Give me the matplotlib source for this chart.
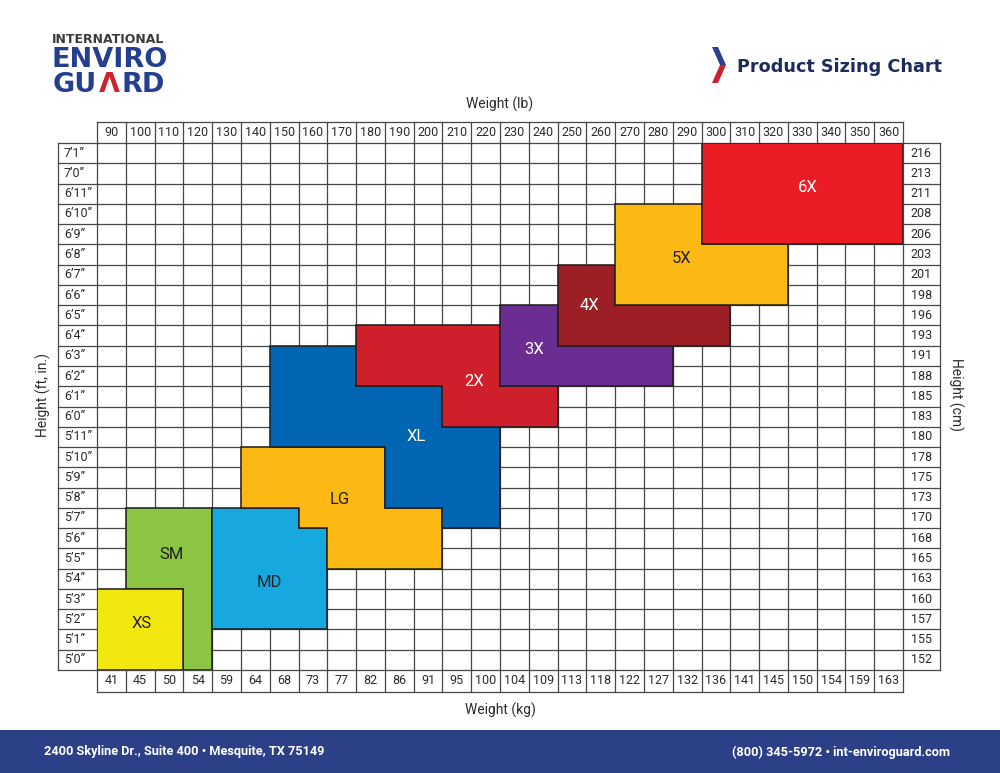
import matplotlib
matplotlib.use("Agg")
import matplotlib.pyplot as plt
from matplotlib.patches import Polygon, Rectangle

plt.rcParams["font.family"] = ["Roboto", "DejaVu Sans"]

W, H = 1000, 773

# ---------------------------------------------------------------------------
# Data
# ---------------------------------------------------------------------------
weights_lb = [90, 100, 110, 120, 130, 140, 150, 160, 170, 180, 190, 200, 210, 220,
              230, 240, 250, 260, 270, 280, 290, 300, 310, 320, 330, 340, 350, 360]
weights_kg = [41, 45, 50, 54, 59, 64, 68, 73, 77, 82, 86, 91, 95, 100,
              104, 109, 113, 118, 122, 127, 132, 136, 141, 145, 150, 154, 159, 163]
heights_in = list(range(60, 86))
heights_ft = ["5’0”", "5’1”", "5’2”", "5’3”", "5’4”", "5’5”", "5’6”", "5’7”",
              "5’8”", "5’9”", "5’10”", "5’11”", "6’0”", "6’1”", "6’2”", "6’3”",
              "6’4”", "6’5”", "6’6”", "6’7”", "6’8”", "6’9”", "6’10”", "6’11”",
              "7’0”", "7’1”"]
heights_cm = [152, 155, 157, 160, 163, 165, 168, 170, 173, 175, 178, 180, 183,
              185, 188, 191, 193, 196, 198, 201, 203, 206, 208, 211, 213, 216]

# visible outline of each size block: (lb cell edge, inch cell edge)
size_names = ["SM", "XS", "MD", "LG", "XL", "2X", "3X", "4X", "5X", "6X"]
size_shapes = {
    "XS": [(85, 59.5), (115, 59.5), (115, 63.5), (85, 63.5)],
    "SM": [(115, 59.5), (125, 59.5), (125, 67.5), (95, 67.5), (95, 63.5), (115, 63.5)],
    "MD": [(125, 61.5), (165, 61.5), (165, 66.5), (155, 66.5), (155, 67.5), (125, 67.5)],
    "LG": [(135, 67.5), (155, 67.5), (155, 66.5), (165, 66.5), (165, 64.5), (205, 64.5),
           (205, 67.5), (185, 67.5), (185, 70.5), (135, 70.5)],
    "XL": [(145, 70.5), (185, 70.5), (185, 67.5), (205, 67.5), (205, 66.5), (225, 66.5),
           (225, 71.5), (205, 71.5), (205, 73.5), (175, 73.5), (175, 75.5), (145, 75.5)],
    "2X": [(175, 73.5), (205, 73.5), (205, 71.5), (245, 71.5), (245, 73.5), (225, 73.5),
           (225, 76.5), (175, 76.5)],
    "3X": [(225, 73.5), (285, 73.5), (285, 75.5), (245, 75.5), (245, 77.5), (225, 77.5)],
    "4X": [(245, 75.5), (305, 75.5), (305, 77.5), (265, 77.5), (265, 79.5), (245, 79.5)],
    "5X": [(265, 77.5), (325, 77.5), (325, 80.5), (295, 80.5), (295, 82.5), (265, 82.5)],
    "6X": [(295, 80.5), (365, 80.5), (365, 85.5), (295, 85.5)],
}
size_label_pos = {
    "XS": (100.6, 61.8), "SM": (111, 65.2), "MD": (144.7, 63.8), "LG": (169.4, 67.9),
    "XL": (195.8, 71.0), "2X": (216, 73.75), "3X": (237, 75.3), "4X": (256, 77.5),
    "5X": (288, 79.8), "6X": (332, 83.3),
}
size_colors = {
    "XS": "#f2e80f", "SM": "#8cc443", "MD": "#17a8e0", "LG": "#fdb913",
    "XL": "#0066b3", "2X": "#cf1f2a", "3X": "#6b2d91", "4X": "#9b1f24",
    "5X": "#fdb913", "6X": "#ec1c24",
}
label_colors = {
    "XS": "#222222", "SM": "#222222", "MD": "#222222", "LG": "#222222",
    "XL": "white", "2X": "white", "3X": "white", "4X": "white",
    "5X": "#222222", "6X": "white",
}

# ---------------------------------------------------------------------------
# Figure
# ---------------------------------------------------------------------------
fig = plt.figure(figsize=(W / 100, H / 100), dpi=100)


def fx(x):
    return x / W


def fy(y):
    return 1 - y / H


ax = fig.add_axes([fx(97), fy(670), 806 / W, 527 / H])
ax.set_xlim(85, 365)
ax.set_ylim(59.5, 85.5)
ax.axis("off")

x0, x1 = 85, 365
y0, y1 = 59.5, 85.5
head_top = 86.55
foot_bot = 58.42
left_edge = 71.5
right_edge = 377.8
grid_kw = dict(color="#474747", linewidth=0.9, clip_on=False, zorder=1)

for i in range(len(weights_lb) + 1):
    xe = x0 + 10 * i
    ax.plot([xe, xe], [foot_bot, head_top], **grid_kw)
for j in range(len(heights_in) + 1):
    ye = y0 + j
    ax.plot([left_edge, right_edge], [ye, ye], **grid_kw)
ax.plot([x0, x1], [head_top, head_top], **grid_kw)
ax.plot([x0, x1], [foot_bot, foot_bot], **grid_kw)
ax.plot([left_edge, left_edge], [y0, y1], **grid_kw)
ax.plot([right_edge, right_edge], [y0, y1], **grid_kw)

tick_kw = dict(fontsize=9, color="#2a2a2a", clip_on=False)
for lb, kg in zip(weights_lb, weights_kg):
    ax.text(lb, (y1 + head_top) / 2, str(lb), ha="center", va="center", **tick_kw)
    ax.text(lb, (y0 + foot_bot) / 2, str(kg), ha="center", va="center", **tick_kw)
for h, ft, cm in zip(heights_in, heights_ft, heights_cm):
    ax.text(left_edge + 2.0, h, ft, ha="left", va="center", **tick_kw)
    ax.text((x1 + right_edge) / 2, h, str(cm), ha="center", va="center", **tick_kw)

for name in size_names:
    poly = Polygon(size_shapes[name], closed=True, facecolor=size_colors[name],
                   edgecolor="#1e1e1e", linewidth=1.1, zorder=3)
    ax.add_patch(poly)
    lx, ly = size_label_pos[name]
    ax.text(lx, ly, name, ha="center", va="center", fontsize=12,
            color=label_colors[name], zorder=4)

# axis titles
fig.text(fx(500), fy(104), "Weight (lb)", ha="center", va="center", fontsize=10, color="#2a2a2a")
fig.text(fx(500), fy(710), "Weight (kg)", ha="center", va="center", fontsize=10, color="#2a2a2a")
fig.text(fx(43), fy(395), "Height (ft, in.)", ha="center", va="center", rotation=90,
         fontsize=10, color="#2a2a2a")
fig.text(fx(956), fy(395), "Height (cm)", ha="center", va="center", rotation=-90,
         fontsize=10, color="#2a2a2a")

# logo
navy = "#243f8f"
logo_kw = dict(va="baseline", fontsize=19.5, fontweight="bold", family="DejaVu Sans")
fig.text(fx(52), fy(43), "INTERNATIONAL", ha="left", va="baseline", fontsize=9,
         fontweight="bold", family="DejaVu Sans", color="#3b3b3b")
fig.text(fx(51), fy(67), "ENVIRO", ha="left", color=navy, **logo_kw)
fig.text(fx(53), fy(92), "GU", ha="left", color=navy, **logo_kw)
fig.text(fx(109), fy(92), "Λ", ha="center", color="#d0202e", **logo_kw)
fig.text(fx(122), fy(92), "RD", ha="left", color=navy, **logo_kw)

# title with chevron
fig.patches.append(Polygon([(fx(712), fy(47)), (fx(718), fy(47)), (fx(726), fy(65)),
                            (fx(720), fy(65))], closed=True, transform=fig.transFigure,
                           facecolor="#2b3f8a", edgecolor="none"))
fig.patches.append(Polygon([(fx(720), fy(65)), (fx(726), fy(65)), (fx(718), fy(83)),
                            (fx(712), fy(83))], closed=True, transform=fig.transFigure,
                           facecolor="#d0202e", edgecolor="none"))
fig.text(fx(737), fy(72), "Product Sizing Chart", ha="left", va="baseline", fontsize=12.7,
         fontweight="bold", family="DejaVu Sans", color="#1c2a5c")

# footer band
fig.patches.append(Rectangle((0, 0), 1, fy(730), transform=fig.transFigure,
                             facecolor="#2c4088", edgecolor="none"))
fig.text(fx(44), fy(752), "2400 Skyline Dr., Suite 400 • Mesquite, TX 75149", ha="left",
         va="center", fontsize=9.2, fontweight="bold", color="white")
fig.text(fx(950), fy(752), "(800) 345-5972 • int-enviroguard.com", ha="right",
         va="center", fontsize=9.2, fontweight="bold", color="white")

fig.savefig("out.png", dpi=100, facecolor="white")
